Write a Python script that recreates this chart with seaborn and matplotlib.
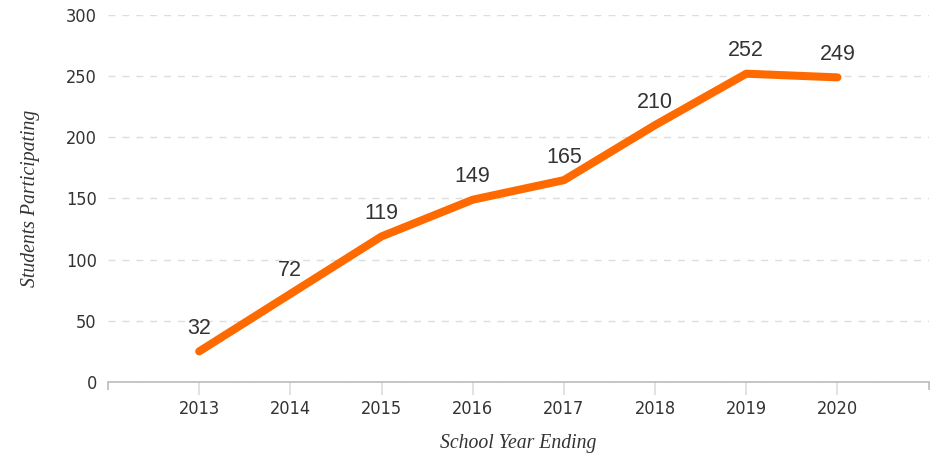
import pandas as pd
import matplotlib
matplotlib.use('Agg')
import matplotlib.pyplot as plt
import seaborn as sns

# Data
years = [2013, 2014, 2015, 2016, 2017, 2018, 2019, 2020]
students = [25, 72, 119, 149, 165, 210, 252, 249]
point_labels = ['32', '72', '119', '149', '165', '210', '252', '249']
y_ticks = [0, 50, 100, 150, 200, 250, 300]

df = pd.DataFrame({'year': years, 'students': students})

sns.set_style('white')
label_font = ['Liberation Serif', 'DejaVu Serif']

fig = plt.figure(figsize=(9.39, 4.54), dpi=100)
ax = fig.add_axes([0.115, 0.1586, 0.874, 0.8084])

# Main line
sns.lineplot(data=df, x='year', y='students', ax=ax, color='#FF6A00',
             linewidth=5.8, solid_capstyle='round', solid_joinstyle='round')

# Value labels above each point
for x, y, txt in zip(years, students, point_labels):
    ax.annotate(txt, (x, y), xytext=(0, 9), textcoords='offset points',
                ha='center', va='bottom', fontsize=15.5, color='#333333',
                family=['Liberation Sans', 'DejaVu Sans'])

ax.set_xlim(2012, 2021)
ax.set_ylim(0, 300)
ax.set_yticks(y_ticks)
ax.set_xticks(years)
ax.set_xticks([2012, 2021], minor=True)

# Dashed horizontal grid
ax.yaxis.grid(True, color='#dddddd', linestyle=(0, (5, 5)), linewidth=1)
ax.xaxis.grid(False)
ax.set_axisbelow(True)

for side in ['top', 'right', 'left']:
    ax.spines[side].set_visible(False)
ax.spines['bottom'].set_color('#bbbbbb')
ax.spines['bottom'].set_linewidth(1.2)

ax.tick_params(axis='x', which='major', bottom=True, length=9, width=1.2,
               color='#dddddd', pad=4, labelsize=13, labelcolor='#333333')
ax.tick_params(axis='x', which='minor', bottom=True, length=6, width=1.2,
               color='#bbbbbb')
ax.tick_params(axis='y', left=False, length=0, pad=8, labelsize=13,
               labelcolor='#333333')
for lab in ax.get_xticklabels() + ax.get_yticklabels():
    lab.set_family('DejaVu Sans')
    lab.set_stretch('condensed')

ax.set_xlabel('School Year Ending', fontsize=14.2, style='italic',
              family=label_font, color='#333333')
ax.set_ylabel('Students Participating', fontsize=14.2, style='italic',
              family=label_font, color='#333333')
ax.xaxis.set_label_coords(0.5, -0.141)
ax.yaxis.set_label_coords(-0.083, 0.5)

plt.savefig('out.png', dpi=100)
